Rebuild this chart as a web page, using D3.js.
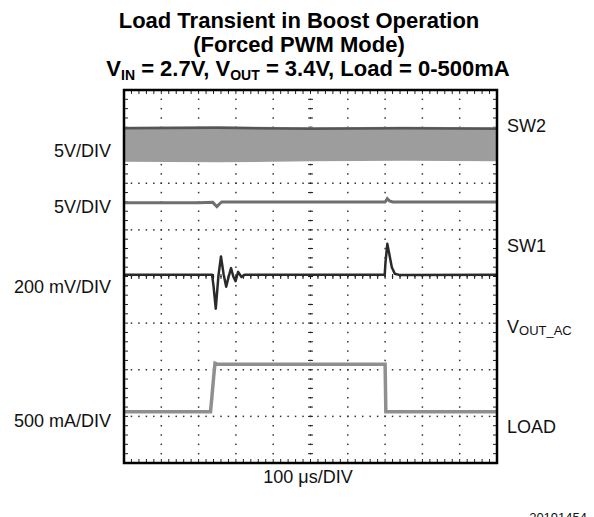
<!DOCTYPE html>
<html>
<head>
<meta charset="utf-8">
<script src="https://cdn.jsdelivr.net/npm/d3@7/dist/d3.min.js"></script>
<style>
  body { margin: 0; background: #fff; }
  svg { font-family: "Liberation Sans", Arial, Helvetica, sans-serif; }
</style>
</head>
<body>
<svg id="chart" width="594" height="517"></svg>
<script>
// scope screen: 10 divisions of 100 us across, 8 divisions up
const timeDomain = [0, 1000]
const divDomain = [0, 8]
const timeDivs = d3.range(0, 1001, 100)
const levelDivs = d3.range(0, 9, 1)

// SW2 switching band (envelope, in divisions)
const sw2Time   = [0, 250, 500, 750, 1000]
const sw2Top    = [7.21, 7.22, 7.20, 7.21, 7.20]
const sw2Bottom = [6.46, 6.45, 6.47, 6.48, 6.47]

// SW1 trace
const sw1Time  = [0, 200, 238, 244, 249, 255, 262, 500, 700, 703, 706, 712, 720, 1000]
const sw1Level = [5.58, 5.58, 5.59, 5.54, 5.50, 5.55, 5.60, 5.60, 5.60, 5.63, 5.67, 5.62, 5.60, 5.60]

// VOUT AC trace
const voutTime  = [0, 230, 236, 240, 246, 253, 260, 267, 274, 280, 287, 293, 299, 306, 315, 324, 500, 699, 701, 706, 712, 718, 726, 740, 1000]
const voutLevel = [4.04, 4.04, 4.04, 3.80, 3.31, 4.00, 4.43, 4.05, 3.78, 3.98, 4.18, 4.00, 3.90, 4.10, 3.99, 4.04, 4.04, 4.04, 4.30, 4.70, 4.45, 4.20, 4.06, 4.03, 4.04]

// LOAD current trace
const loadTime  = [0, 232, 236, 241, 244, 250, 500, 700, 702, 1000]
const loadLevel = [1.10, 1.10, 1.45, 1.90, 2.14, 2.12, 2.12, 2.12, 1.10, 1.10]

const leftLabels  = [{ text: "5V/DIV", y: 157 }, { text: "5V/DIV", y: 213 }, { text: "200 mV/DIV", y: 293 }, { text: "500 mA/DIV", y: 427 }]
const rightLabels = [{ text: "SW2", sub: "", y: 132 }, { text: "SW1", sub: "", y: 252 }, { text: "V", sub: "OUT_AC", y: 333 }, { text: "LOAD", sub: "", y: 433 }]

const svg = d3.select("#chart")

const plot = { left: 124, right: 497, top: 90, bottom: 463 }

const x = d3.scaleLinear().domain(timeDomain).range([plot.left, plot.right])
const y = d3.scaleLinear().domain(divDomain).range([plot.bottom, plot.top])

// title
const title = svg.append("g")
    .attr("font-weight", "bold")
    .attr("font-size", "22px")
    .attr("text-anchor", "middle")
    .attr("fill", "#000")

title.append("text").attr("x", 299).attr("y", 28).text("Load Transient in Boost Operation")
title.append("text").attr("x", 299).attr("y", 52).text("(Forced PWM Mode)")

const t3 = title.append("text").attr("x", 308).attr("y", 76)
t3.append("tspan").text("V")
t3.append("tspan").attr("font-size", "14px").attr("dy", 4).text("IN")
t3.append("tspan").attr("dy", -4).text(" = 2.7V, V")
t3.append("tspan").attr("font-size", "14px").attr("dy", 4).text("OUT")
t3.append("tspan").attr("dy", -4).text(" = 3.4V, Load = 0-500mA")

// grid dots
const grid = svg.append("g").attr("fill", "#333")
const minorX = d3.range(0, 1000.01, 20)
const minorY = d3.range(0, 8.01, 0.2)

levelDivs.slice(1, -1).forEach(lv => {
    grid.selectAll(null)
        .data(minorX.slice(1, -1))
        .enter()
        .append("rect")
            .attr("x", d => x(d) - 0.75)
            .attr("y", y(lv) - 0.75)
            .attr("width", 1.5)
            .attr("height", 1.5)
})
timeDivs.slice(1, -1).forEach(tv => {
    grid.selectAll(null)
        .data(minorY.slice(1, -1))
        .enter()
        .append("rect")
            .attr("x", x(tv) - 0.75)
            .attr("y", d => y(d) - 0.75)
            .attr("width", 1.5)
            .attr("height", 1.5)
})

// center cross ticks and frame ticks
const ticks = svg.append("g").attr("stroke", "#222").attr("stroke-width", 1)
const tx = minorX.slice(1, -1)
const ty = minorY.slice(1, -1)

ticks.selectAll(null).data(ty).enter().append("line")
    .attr("x1", x(500) - 2.5).attr("x2", x(500) + 2.5)
    .attr("y1", d => y(d)).attr("y2", d => y(d))
ticks.selectAll(null).data(tx).enter().append("line")
    .attr("x1", d => x(d)).attr("x2", d => x(d))
    .attr("y1", y(4) - 2.5).attr("y2", y(4) + 2.5)
ticks.selectAll(null).data(tx).enter().append("line")
    .attr("x1", d => x(d)).attr("x2", d => x(d))
    .attr("y1", plot.top).attr("y2", plot.top + 4)
ticks.selectAll(null).data(tx).enter().append("line")
    .attr("x1", d => x(d)).attr("x2", d => x(d))
    .attr("y1", plot.bottom).attr("y2", plot.bottom - 4)
ticks.selectAll(null).data(ty).enter().append("line")
    .attr("x1", plot.left).attr("x2", plot.left + 4)
    .attr("y1", d => y(d)).attr("y2", d => y(d))
ticks.selectAll(null).data(ty).enter().append("line")
    .attr("x1", plot.right).attr("x2", plot.right - 4)
    .attr("y1", d => y(d)).attr("y2", d => y(d))

// traces
const traces = svg.append("g")

const sw2Data = sw2Time.map((t, i) => ({ t: t, top: sw2Top[i], bottom: sw2Bottom[i] }))
traces.append("path")
    .datum(sw2Data)
    .attr("fill", "#9d9d9d")
    .attr("d", d3.area().x(d => x(d.t)).y0(d => y(d.bottom)).y1(d => y(d.top)))
traces.append("path")
    .datum(sw2Data)
    .attr("fill", "none")
    .attr("stroke", "#555")
    .attr("stroke-width", 2.5)
    .attr("d", d3.line().x(d => x(d.t)).y(d => y(d.top - 0.03)))

const lineGen = d3.line().x(d => x(d[0])).y(d => y(d[1]))

traces.append("path")
    .datum(d3.zip(sw1Time, sw1Level))
    .attr("fill", "none")
    .attr("stroke", "#6f6f6f")
    .attr("stroke-width", 3)
    .attr("d", lineGen)

traces.append("path")
    .datum(d3.zip(loadTime, loadLevel))
    .attr("fill", "none")
    .attr("stroke", "#8f8f8f")
    .attr("stroke-width", 3.5)
    .attr("d", lineGen)

traces.append("path")
    .datum(d3.zip(voutTime, voutLevel))
    .attr("fill", "none")
    .attr("stroke", "#2a2a2a")
    .attr("stroke-width", 2.5)
    .attr("stroke-linejoin", "round")
    .attr("d", lineGen)

// frame
svg.append("rect")
    .attr("x", plot.left)
    .attr("y", plot.top)
    .attr("width", plot.right - plot.left)
    .attr("height", plot.bottom - plot.top)
    .attr("fill", "none")
    .attr("stroke", "#000")
    .attr("stroke-width", 2.5)

// channel labels
const labels = svg.append("g").attr("font-size", "18px").attr("fill", "#111")

labels.selectAll(null)
    .data(leftLabels)
    .enter()
    .append("text")
        .attr("x", 111)
        .attr("y", d => d.y)
        .attr("text-anchor", "end")
        .text(d => d.text)

const rl = labels.selectAll(null)
    .data(rightLabels)
    .enter()
    .append("text")
        .attr("x", 507)
        .attr("y", d => d.y)
rl.append("tspan").text(d => d.text)
rl.append("tspan").attr("font-size", "13px").attr("dy", 2).text(d => d.sub)

labels.append("text")
    .attr("x", 308)
    .attr("y", 483)
    .attr("text-anchor", "middle")
    .text("100 \u03bcs/DIV")

svg.append("text")
    .attr("x", 587)
    .attr("y", 522)
    .attr("text-anchor", "end")
    .attr("font-size", "13px")
    .attr("fill", "#111")
    .text("20191454")
</script>
</body>
</html>
